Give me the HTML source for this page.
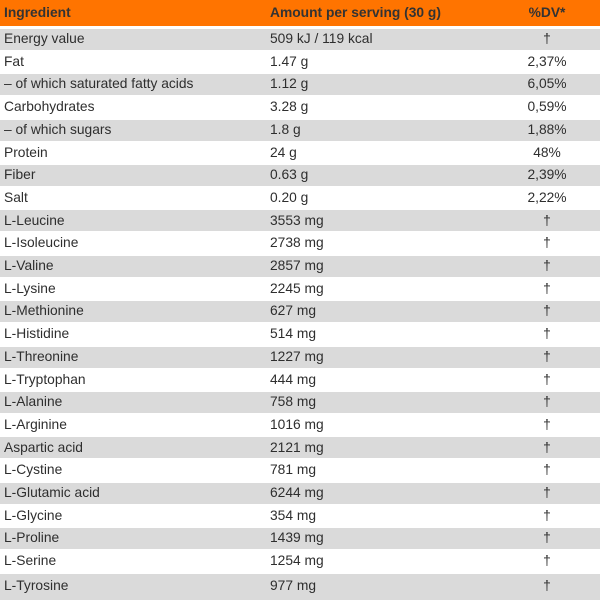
<!DOCTYPE html>
<html>
<head>
<meta charset="utf-8">
<style>
  html,body{margin:0;padding:0;background:#fff;}
  #w{position:relative;width:600px;height:600px;overflow:hidden;font-family:"Liberation Sans",Arial,sans-serif;color:#2e2e2e;font-size:13.8px;}
  .hdr{position:absolute;left:0;top:0;width:600px;height:26px;background:#ff7400;font-weight:bold;color:#333;line-height:26px;}
  .row{position:absolute;left:0;width:600px;height:22.7px;line-height:22.7px;}
  .row.g::before{content:"";position:absolute;left:0;right:0;top:0.8px;height:21px;background:#dadada;}
  .row.last::before{height:30px;}
  .c1,.c2,.c3{position:absolute;top:0;white-space:nowrap;}
  .c1{left:4px;}
  .c2{left:270px;}
  .c3{left:494px;width:106px;text-align:center;}
</style>
</head>
<body>
<div id="w">
  <div class="hdr"><span class="c1">Ingredient</span><span class="c2">Amount per serving (30 g)</span><span class="c3">%DV*</span></div>

  <div class="row g" style="top:28px"><span class="c1">Energy value</span><span class="c2">509 kJ / 119 kcal</span><span class="c3">†</span></div>
  <div class="row" style="top:50.7px"><span class="c1">Fat</span><span class="c2">1.47 g</span><span class="c3">2,37%</span></div>
  <div class="row g" style="top:73.4px"><span class="c1">– of which saturated fatty acids</span><span class="c2">1.12 g</span><span class="c3">6,05%</span></div>
  <div class="row" style="top:96.1px"><span class="c1">Carbohydrates</span><span class="c2">3.28 g</span><span class="c3">0,59%</span></div>
  <div class="row g" style="top:118.8px"><span class="c1">– of which sugars</span><span class="c2">1.8 g</span><span class="c3">1,88%</span></div>
  <div class="row" style="top:141.5px"><span class="c1">Protein</span><span class="c2">24 g</span><span class="c3">48%</span></div>
  <div class="row g" style="top:164.2px"><span class="c1">Fiber</span><span class="c2">0.63 g</span><span class="c3">2,39%</span></div>
  <div class="row" style="top:186.9px"><span class="c1">Salt</span><span class="c2">0.20 g</span><span class="c3">2,22%</span></div>
  <div class="row g" style="top:209.6px"><span class="c1">L-Leucine</span><span class="c2">3553 mg</span><span class="c3">†</span></div>
  <div class="row" style="top:232.3px"><span class="c1">L-Isoleucine</span><span class="c2">2738 mg</span><span class="c3">†</span></div>
  <div class="row g" style="top:255px"><span class="c1">L-Valine</span><span class="c2">2857 mg</span><span class="c3">†</span></div>
  <div class="row" style="top:277.7px"><span class="c1">L-Lysine</span><span class="c2">2245 mg</span><span class="c3">†</span></div>
  <div class="row g" style="top:300.4px"><span class="c1">L-Methionine</span><span class="c2">627 mg</span><span class="c3">†</span></div>
  <div class="row" style="top:323.1px"><span class="c1">L-Histidine</span><span class="c2">514 mg</span><span class="c3">†</span></div>
  <div class="row g" style="top:345.8px"><span class="c1">L-Threonine</span><span class="c2">1227 mg</span><span class="c3">†</span></div>
  <div class="row" style="top:368.5px"><span class="c1">L-Tryptophan</span><span class="c2">444 mg</span><span class="c3">†</span></div>
  <div class="row g" style="top:391.2px"><span class="c1">L-Alanine</span><span class="c2">758 mg</span><span class="c3">†</span></div>
  <div class="row" style="top:413.9px"><span class="c1">L-Arginine</span><span class="c2">1016 mg</span><span class="c3">†</span></div>
  <div class="row g" style="top:436.6px"><span class="c1">Aspartic acid</span><span class="c2">2121 mg</span><span class="c3">†</span></div>
  <div class="row" style="top:459.3px"><span class="c1">L-Cystine</span><span class="c2">781 mg</span><span class="c3">†</span></div>
  <div class="row g" style="top:482px"><span class="c1">L-Glutamic acid</span><span class="c2">6244 mg</span><span class="c3">†</span></div>
  <div class="row" style="top:504.7px"><span class="c1">L-Glycine</span><span class="c2">354 mg</span><span class="c3">†</span></div>
  <div class="row g" style="top:527.4px"><span class="c1">L-Proline</span><span class="c2">1439 mg</span><span class="c3">†</span></div>
  <div class="row" style="top:550.1px"><span class="c1">L-Serine</span><span class="c2">1254 mg</span><span class="c3">†</span></div>
  <div class="row g last" style="top:572.8px;height:28px;line-height:25px;"><span class="c1">L-Tyrosine</span><span class="c2">977 mg</span><span class="c3">†</span></div>
</div>
</body>
</html>
